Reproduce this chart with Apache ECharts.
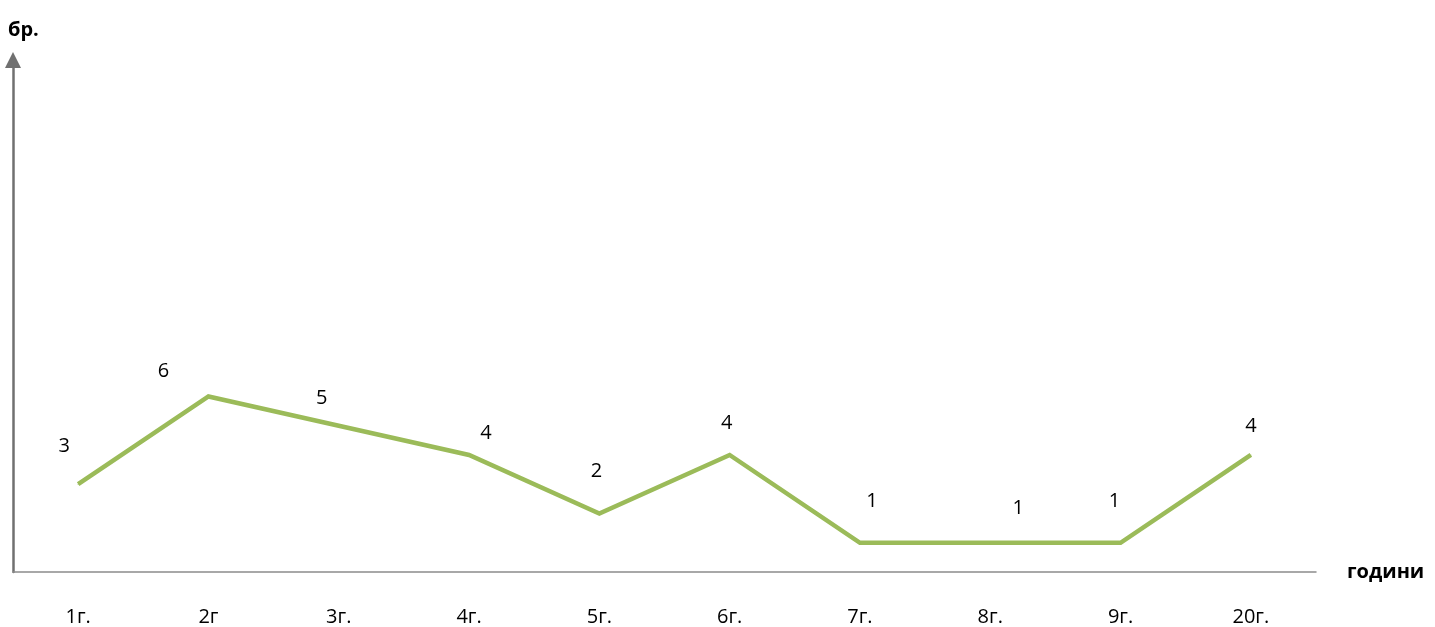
<!DOCTYPE html>
<html>
<head>
<meta charset="utf-8">
<script src="https://cdn.jsdelivr.net/npm/echarts@6/dist/echarts.min.js"></script>
<style>
html, body { margin: 0; padding: 0; background: #fff; }
#chart { width: 1435px; height: 627px; }
</style>
</head>
<body>
<div id="chart"></div>
<script>
// data
var categories = ['1г.', '2г', '3г.', '4г.', '5г.', '6г.', '7г.', '8г.', '9г.', '20г.'];
var values = [3, 6, 5, 4, 2, 4, 1, 1, 1, 4];
// label nudges (px), labels were hand placed in the original
var labelOffsets = [[-14, -38], [-45, -25], [-17, -27], [17, -22], [-3, -42],
                    [-3, -32], [12, -41], [28, -34], [-6, -41], [0, -29]];

var chart = echarts.init(document.getElementById('chart'));
var font = '"Open Sans", "DejaVu Sans", sans-serif';

var seriesData = values.map(function (v, i) {
    return {
        value: v,
        label: { offset: labelOffsets[i] }
    };
});

var option = {
    animation: false,
    grid: { left: 13, right: 119, top: 60, bottom: 55 },
    xAxis: {
        type: 'category',
        data: categories,
        boundaryGap: true,
        name: 'години',
        nameLocation: 'end',
        nameGap: 31,
        nameTextStyle: { fontFamily: font, fontSize: 20, fontWeight: 'bold', color: '#000' },
        axisLine: { lineStyle: { color: '#8c8c8c', width: 1.5 } },
        axisTick: { show: false },
        axisLabel: { fontFamily: font, fontSize: 20, color: '#000', margin: 35 }
    },
    yAxis: {
        type: 'value',
        min: 0,
        max: 17.5,
        name: 'бр.',
        nameLocation: 'end',
        nameGap: 20,
        nameTextStyle: { fontFamily: font, fontSize: 20, fontWeight: 'bold', color: '#000', align: 'left', padding: [0, 0, 0, -5] },
        axisLine: {
            show: true,
            symbol: ['none', 'triangle'],
            symbolSize: [16, 16],
            lineStyle: { color: '#707070', width: 2.5 }
        },
        axisTick: { show: false },
        axisLabel: { show: false },
        splitLine: { show: false }
    },
    series: [{
        type: 'line',
        data: seriesData,
        symbol: 'circle',
        symbolSize: 1,
        itemStyle: { color: '#9bbb59' },
        lineStyle: { color: '#9bbb59', width: 4.5, join: 'miter' },
        label: {
            show: true,
            position: 'inside',
            fontFamily: font,
            fontSize: 20,
            color: '#000'
        }
    }]
};
chart.setOption(option);
</script>
</body>
</html>
